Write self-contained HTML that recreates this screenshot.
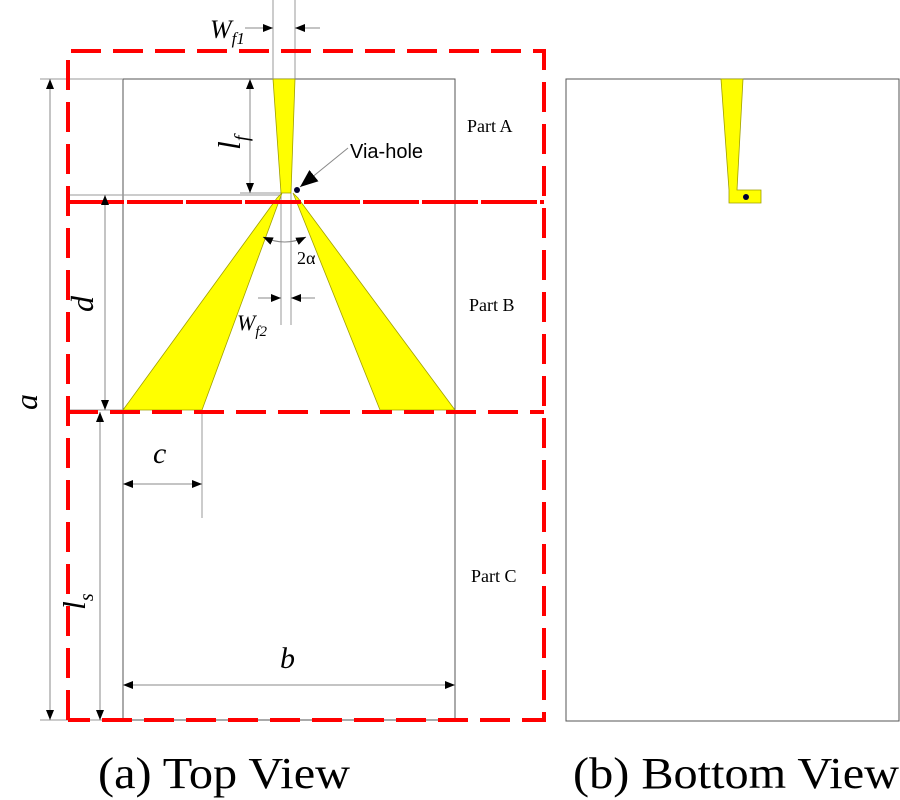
<!DOCTYPE html>
<html><head><style>body{margin:0;background:#fff}svg{display:block}</style></head><body>
<svg width="900" height="800" viewBox="0 0 900 800" xmlns="http://www.w3.org/2000/svg" font-family="Liberation Serif, serif">
<defs>
<marker id="ar" viewBox="0 0 10 10" refX="10" refY="5" markerWidth="10" markerHeight="10" markerUnits="userSpaceOnUse" orient="auto-start-reverse"><path d="M0,1 L10,5 L0,9z" fill="#000"/></marker>
<marker id="ab" viewBox="0 0 10 10" refX="10" refY="5" markerWidth="18" markerHeight="18" markerUnits="userSpaceOnUse" orient="auto"><path d="M0,1 L10,5 L0,9z" fill="#000"/></marker>
</defs>
<rect x="123" y="79" width="332" height="641" fill="none" stroke="#555" stroke-width="1"/>
<rect x="566" y="79" width="333" height="642" fill="none" stroke="#555" stroke-width="1"/>
<g stroke="#999" stroke-width="1">
<line x1="40" y1="79" x2="123" y2="79"/>
<line x1="40" y1="720" x2="123" y2="720"/>
<line x1="68" y1="195" x2="280" y2="195"/>
<line x1="68" y1="410" x2="123" y2="410"/>
<line x1="273" y1="0" x2="273" y2="79"/>
<line x1="295" y1="0" x2="295" y2="79"/>
<line x1="281" y1="193" x2="281" y2="325"/>
<line x1="291" y1="193" x2="291" y2="325"/>
<line x1="202" y1="410" x2="202" y2="518"/>
<line x1="240" y1="193" x2="282" y2="193"/>
</g>
<g fill="#ffff00" stroke="#a0a000" stroke-width="0.8">
<polygon points="273,79 295,79 291,193 281,193"/>
<polygon points="277,198 282,193 202,410 123,410"/>
<polygon points="293,193 298,198 455,410 380,410"/>
<polygon points="721,79 743,79 737,190 761,190 761,203 729,203 729,190"/>
</g>
<circle cx="297" cy="190" r="3" fill="#003"/>
<circle cx="746" cy="197" r="3" fill="#003"/>
<g stroke="#ff0000" stroke-width="4" fill="none" stroke-dasharray="30,12">
<path d="M68,720 L68,51 L544,51 L544,720 L68,720"/>
<line x1="68" y1="202" x2="544" y2="202" stroke-dasharray="56,3"/>
<line x1="68" y1="412" x2="544" y2="412"/>
</g>
<g stroke="#888" stroke-width="1">
<line x1="50" y1="79" x2="50" y2="720" marker-start="url(#ar)" marker-end="url(#ar)"/>
<line x1="105" y1="195" x2="105" y2="410" marker-start="url(#ar)" marker-end="url(#ar)"/>
<line x1="100" y1="412" x2="100" y2="720" marker-start="url(#ar)" marker-end="url(#ar)"/>
<line x1="250" y1="79" x2="250" y2="193" marker-start="url(#ar)" marker-end="url(#ar)"/>
<line x1="123" y1="484" x2="202" y2="484" marker-start="url(#ar)" marker-end="url(#ar)"/>
<line x1="123" y1="685" x2="455" y2="685" marker-start="url(#ar)" marker-end="url(#ar)"/>
<line x1="245" y1="28" x2="273" y2="28" marker-end="url(#ar)"/>
<line x1="320" y1="28" x2="295" y2="28" marker-end="url(#ar)"/>
<line x1="258" y1="298" x2="281" y2="298" marker-end="url(#ar)"/>
<line x1="315" y1="298" x2="291" y2="298" marker-end="url(#ar)"/>
<line x1="348" y1="148" x2="300" y2="187" marker-end="url(#ab)"/>
<path d="M263,237 Q285,247 306,237" fill="none" marker-start="url(#ar)" marker-end="url(#ar)"/>
</g>
<g font-style="italic" fill="#000">
<text x="210" y="38" font-size="26">W<tspan font-size="17" dy="6">f1</tspan></text>
<text x="237" y="330" font-size="22">W<tspan font-size="15" dy="6">f2</tspan></text>
<text transform="translate(240,150) rotate(-90)" font-size="32">l<tspan font-size="20" dy="8">f</tspan></text>
<text transform="translate(93,312) rotate(-90)" font-size="32">d</text>
<text transform="translate(37,410) rotate(-90)" font-size="32">a</text>
<text transform="translate(85,610) rotate(-90)" font-size="32">l<tspan font-size="20" dy="8">s</tspan></text>
<text x="153" y="463" font-size="30">c</text>
<text x="280" y="668" font-size="30">b</text>
</g>
<text x="297" y="264" font-size="18">2α</text>
<text x="350" y="158" font-size="20" font-family="Liberation Sans, sans-serif">Via-hole</text>
<text x="467" y="132" font-size="18">Part A</text>
<text x="469" y="311" font-size="18">Part B</text>
<text x="471" y="582" font-size="18">Part C</text>
<text x="98" y="788" font-size="44" textLength="252" lengthAdjust="spacingAndGlyphs">(a) Top View</text>
<text x="573" y="788" font-size="44" textLength="326" lengthAdjust="spacingAndGlyphs">(b) Bottom View</text>
</svg>
</body></html>
